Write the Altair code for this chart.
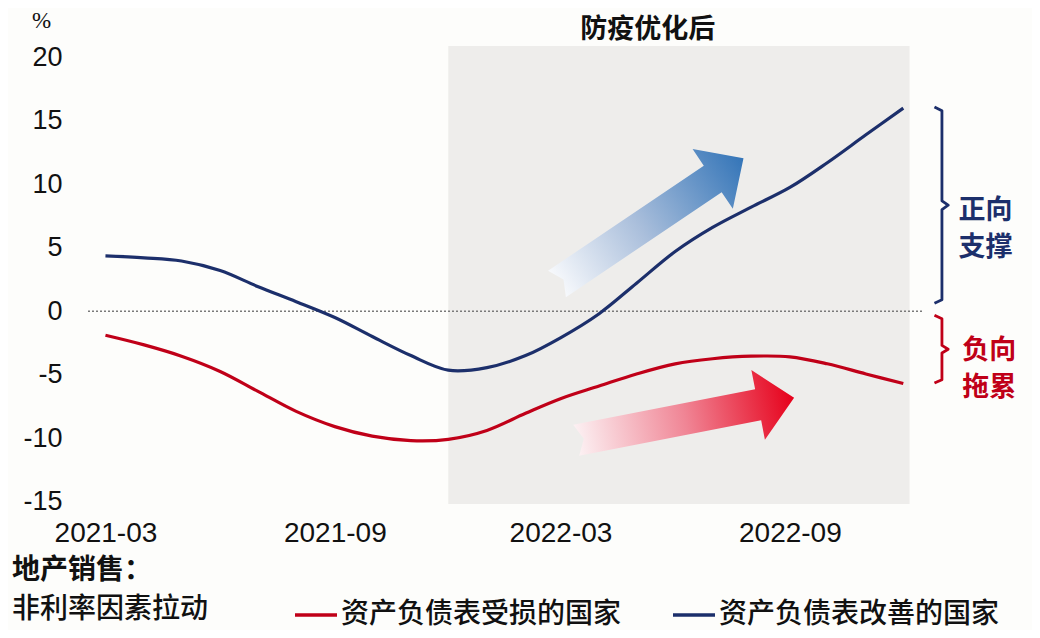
import altair as alt
import pandas as pd

# ---------------- data ----------------
months = ["2021-03-01", "2021-04-01", "2021-05-01", "2021-06-01", "2021-07-01", "2021-08-01",
          "2021-09-01", "2021-10-01", "2021-11-01", "2021-12-01", "2022-01-01", "2022-02-01",
          "2022-03-01", "2022-04-01", "2022-05-01", "2022-06-01", "2022-07-01", "2022-08-01",
          "2022-09-01", "2022-10-01", "2022-11-01", "2022-12-01"]
red_name = "资产负债表受损的国家"
blue_name = "资产负债表改善的国家"
red_vals = [-1.9, -2.66, -3.55, -4.75, -6.3, -7.9, -9.1, -9.85, -10.2, -10.1, -9.4, -8.05,
            -6.9, -5.9, -4.95, -4.15, -3.75, -3.55, -3.6, -4.15, -4.95, -5.7]
blue_vals = [4.35, 4.2, 3.95, 3.2, 1.95, 0.75, -0.5, -2.0, -3.5, -4.65, -4.45, -3.5,
             -2.1, -0.2, 2.2, 4.7, 6.6, 8.2, 9.75, 11.7, 13.9, 16.0]

y_ticks = [-15, -10, -5, 0, 5, 10, 15, 20]
x_tick_dates = [(2021, 3), (2021, 9), (2022, 3), (2022, 9)]

shade_start, shade_end = "2021-12-01", "2022-12-06"
shade_top, shade_bottom = 20.9, -15.2

RED = "#c00018"
NAVY = "#1c2f6b"

df = pd.DataFrame({
    "date": months + months,
    "value": red_vals + blue_vals,
    "series": [red_name] * len(months) + [blue_name] * len(months),
})

x_scale = alt.Scale(type="utc", domain=[alt.DateTime(year=2021, month=2, date=15, utc=True),
                                         alt.DateTime(year=2022, month=12, date=16, utc=True)])
y_scale = alt.Scale(domain=[shade_bottom, shade_top], nice=False, zero=False)

x_axis = alt.Axis(
    values=[alt.DateTime(year=y, month=m, date=1, utc=True) for y, m in x_tick_dates],
    labelExpr="utcFormat(datum.value, '%Y-%m')", title=None, domain=False, ticks=False, grid=False,
    labelFontSize=28, labelFont="Liberation Sans", labelColor="#111111", labelPadding=15,
    labelFlush=False, labelOverlap=False,
)
y_axis = alt.Axis(
    values=y_ticks, labelExpr="'' + datum.value", domain=False, ticks=False, grid=False,
    labelFontSize=27, labelFont="Liberation Sans", labelColor="#111111", labelPadding=26,
    title="%", titleAngle=0, titleX=-47, titleY=-26, titleFontSize=23,
    titleFont="Liberation Sans Narrow", titleFontWeight="normal", titleAlign="center",
    titleBaseline="middle", titleColor="#111111",
)

X = lambda f: alt.X(f, scale=x_scale, axis=x_axis)
Y = lambda f: alt.Y(f, scale=y_scale, axis=y_axis)

# shaded "after" region
shade_df = pd.DataFrame({"start": [shade_start], "end": [shade_end], "top": [shade_top], "bottom": [shade_bottom]})
shade = alt.Chart(shade_df).mark_rect(color="#eeedeb").encode(
    x=X("start:T"), x2="end:T", y=Y("top:Q"), y2="bottom:Q")

zero = alt.Chart(pd.DataFrame({"v": [0]})).mark_rule(
    color="#7a7a7a", strokeDash=[2, 2], strokeWidth=1.5).encode(y=Y("v:Q"))

# arrows
arrow_path = "M -1 -0.142 L 0.67 -0.142 L 0.67 -0.32 L 1 0 L 0.67 0.32 L 0.67 0.142 L -1 0.142 L -0.93 0 Z"
blue_grad = alt.Gradient(gradient="linear", x1=0, y1=0, x2=1, y2=0, stops=[
    alt.GradientStop(offset=0, color="#f7f9fc"),
    alt.GradientStop(offset=0.45, color="#a9bedb"),
    alt.GradientStop(offset=1, color="#3475b8")])
red_grad = alt.Gradient(gradient="linear", x1=0, y1=0, x2=1, y2=0, stops=[
    alt.GradientStop(offset=0, color="#fcf1f3"),
    alt.GradientStop(offset=0.5, color="#f08595"),
    alt.GradientStop(offset=1, color="#e6001a")])

blue_arrow = alt.Chart(pd.DataFrame({"date": ["2022-05-12"], "value": [7.1]})).mark_point(
    shape=arrow_path, size=50625, angle=326, filled=True, fill=blue_grad, opacity=1, strokeWidth=0
).encode(x=X("date:T"), y=Y("value:Q"))
red_arrow = alt.Chart(pd.DataFrame({"date": ["2022-06-09"], "value": [-8.5]})).mark_point(
    shape=arrow_path, size=49284, angle=349, filled=True, fill=red_grad, opacity=1, strokeWidth=0
).encode(x=X("date:T"), y=Y("value:Q"))

lines = alt.Chart(df).mark_line(strokeWidth=3.2, interpolate="catmull-rom").encode(
    x=X("date:T"), y=Y("value:Q"),
    color=alt.Color("series:N", scale=alt.Scale(domain=[red_name, blue_name], range=[RED, NAVY]),
                    legend=alt.Legend(orient="none", legendX=205, legendY=546, direction="horizontal",
                                      title=None, symbolType="stroke", symbolSize=1764,
                                      symbolStrokeWidth=3.5, labelFontSize=28,
                                      labelFont="Noto Sans CJK SC", labelFontWeight=500,
                                      labelColor="#111111",
                                      labelLimit=500, columnPadding=44, labelOffset=2, padding=0)),
)

# braces on the right
brace_dates = ["2022-12-26", "2023-01-01", "2023-01-01", "2023-01-06", "2023-01-01", "2023-01-01", "2022-12-26"]
blue_brace_vals = [16.1, 15.8, 8.7, 8.35, 8.0, 0.9, 0.63]
red_brace_vals = [-0.32, -0.6, -2.7, -3.0, -3.3, -5.4, -5.67]
bb = pd.DataFrame({"date": brace_dates, "value": blue_brace_vals, "o": list(range(7))})
rb = pd.DataFrame({"date": brace_dates, "value": red_brace_vals, "o": list(range(7))})
blue_brace = alt.Chart(bb).mark_line(color=NAVY, strokeWidth=2.8, strokeJoin="round").encode(
    x=X("date:T"), y=Y("value:Q"), order="o:Q")
red_brace = alt.Chart(rb).mark_line(color=RED, strokeWidth=2.8, strokeJoin="round").encode(
    x=X("date:T"), y=Y("value:Q"), order="o:Q")

# texts
ann = pd.DataFrame({
    "date": ["2022-05-10", "2023-02-05", "2023-02-08"],
    "value": [22.15, 7.88, -3.12],
    "text": ["防疫优化后", "正向\n支撑", "负向\n拖累"],
    "c": ["#111111", NAVY, RED],
})
ann_text = alt.Chart(ann).mark_text(
    font="Noto Sans CJK SC", fontSize=27, fontWeight="bold", align="center", baseline="middle",
    lineBreak="\n", lineHeight=37,
).encode(x=X("date:T"), y=Y("value:Q"), text="text:N", color=alt.Color("c:N", scale=None, legend=None))

side = pd.DataFrame({"text": ["地产销售：", "非利率因素拉动"]})
side1 = alt.Chart(side.iloc[[0]]).mark_text(
    font="Noto Sans CJK SC", fontSize=28, fontWeight="bold", align="left", baseline="middle", color="#111111"
).encode(x=alt.value(-76), y=alt.value(525), text="text:N")
side2 = alt.Chart(side.iloc[[1]]).mark_text(
    font="Noto Sans CJK SC", fontSize=28, fontWeight=500, align="left", baseline="middle", color="#111111"
).encode(x=alt.value(-76), y=alt.value(564), text="text:N")

chart = alt.layer(
    shade, zero, blue_arrow, red_arrow, lines, blue_brace, red_brace, ann_text, side1, side2
).resolve_scale(color="independent").properties(
    width=834, height=458,
    padding={"left": 80, "top": 38, "right": 110, "bottom": 126},
    autosize=alt.AutoSizeParams(type="none"),
    background="#fdfdfb",
).configure_view(strokeWidth=0)

chart.save("out.html", embed_options={"renderer": "svg", "actions": False})
